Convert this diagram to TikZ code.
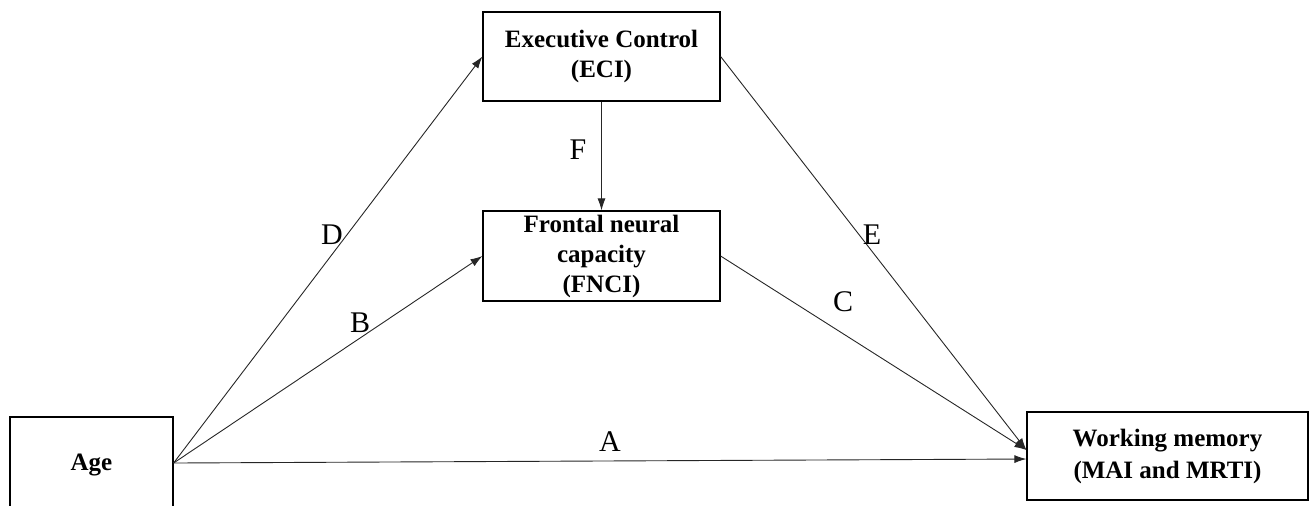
\documentclass[tikz,border=0pt]{standalone}
\usepackage{fontspec}
\setmainfont{Liberation Serif}
\usetikzlibrary{arrows.meta,calc}
\begin{document}
\begin{tikzpicture}[x=0.5pt,y=-0.5pt,
  box/.style={draw,line width=0.6pt,inner sep=0pt,align=center,font=\bfseries\fontsize{12.5}{15}\selectfont},
  lab/.style={inner sep=0pt,font=\fontsize{15}{18}\selectfont},
  conn/.style={-{Latex[length=6pt,width=4pt]},line width=0.45pt,black!85}]
\useasboundingbox (0,0) rectangle (1309,505);
\node[box,minimum width=81.5pt,minimum height=48pt](age) at (91.5,465){Age};
\node[box,minimum width=118.5pt,minimum height=44.5pt](eci) at (601.5,56.5){Executive Control\\(ECI)};
\node[box,minimum width=118.5pt,minimum height=45pt](fnci) at (601.5,256){Frontal neural\\capacity\\(FNCI)};
\node[box,minimum width=140.5pt,minimum height=44pt,font=\bfseries\fontsize{12.5}{16}\selectfont](wm) at (1167.5,456){Working memory\\(MAI and MRTI)};
\coordinate (src) at ($(age.east)+(0,-2)$);
\coordinate (wmA) at ($(wm.west)+(0,3)$);
\coordinate (wmCE) at ($(wm.west)+(0,-6)$);
\draw[conn] (src) -- (eci.west);
\draw[conn] (src) -- (fnci.west);
\draw[conn] (src) -- (wmA);
\draw[conn] (eci.south) -- (fnci.north);
\draw[conn] (fnci.east) -- (wmCE);
\draw[conn] (eci.east) -- (wmCE);
\node[lab](labD) at (332,235){D};
\node[lab](labB) at (360,323){B};
\node[lab](labA) at (610,442){A};
\node[lab](labF) at (578,150){F};
\node[lab](labE) at (872,235){E};
\node[lab](labC) at (843,302){C};
\end{tikzpicture}
\end{document}
